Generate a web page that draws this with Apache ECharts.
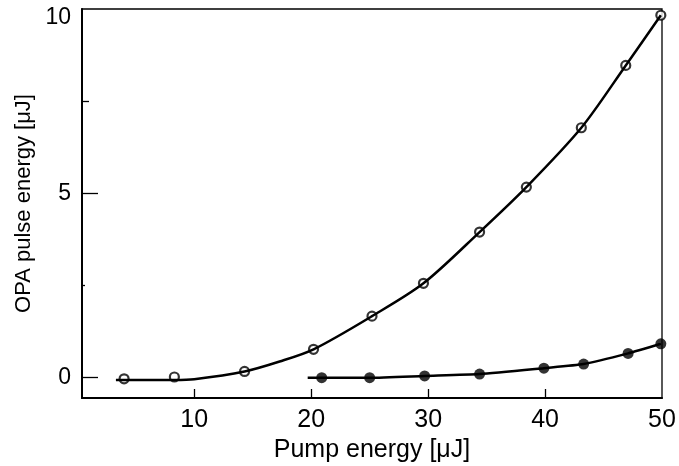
<!DOCTYPE html>
<html>
<head>
<meta charset="utf-8">
<script src="https://cdn.jsdelivr.net/npm/echarts@6/dist/echarts.min.js"></script>
<style>
    html, body { margin: 0; padding: 0; background: #fff; }
    #chart { width: 679px; height: 466px; }
</style>
</head>
<body>
<div id="chart"></div>
<script>
    // measured points (pump energy, OPA energy)
    var openX = [4.0, 8.3, 14.3, 20.2, 25.2, 29.6, 34.4, 38.4, 43.1, 46.9, 49.9];
    var openY = [-0.03, 0.02, 0.17, 0.77, 1.67, 2.56, 3.95, 5.17, 6.78, 8.47, 9.83];
    var filledX = [20.9, 25.0, 29.7, 34.4, 39.9, 43.3, 47.1, 49.9];
    var filledY = [0.0, 0.0, 0.05, 0.1, 0.26, 0.37, 0.66, 0.92];

    // fitted curves drawn through the points
    var fitOpenX = [3.3, 8.3, 10.0, 14.3, 17.3, 20.2, 25.2, 29.6, 34.4, 38.4, 43.1, 46.9, 49.9];
    var fitOpenY = [-0.06, -0.06, -0.04, 0.17, 0.44, 0.77, 1.67, 2.56, 3.95, 5.17, 6.78, 8.47, 9.83];
    var fitFilledX = [19.7, 20.9, 25.0, 29.7, 34.4, 39.9, 43.3, 47.1, 49.9];
    var fitFilledY = [0.0, 0.0, 0.0, 0.05, 0.1, 0.26, 0.37, 0.66, 0.92];

    var xTickLabels = [10, 20, 30, 40, 50];
    var xTicks = [10, 20, 30, 40];
    var yTickLabels = [0, 5, 10];
    var yMajorTicks = [0, 5];
    var yMinorTicks = [7.5];
    var ySmallTicks = [2.5];

    function pairs(xs, ys) {
        return xs.map(function (x, i) { return [x, ys[i]]; });
    }

    var font = 'Liberation Sans, Arial, Helvetica, sans-serif';
    var xMin = 0.4, xMax = 50, yMin = -0.55, yMax = 10;

    function yAxisFor(ticks, len, showLabel) {
        return {
            type: 'value',
            position: 'left',
            min: yMin,
            max: yMax,
            splitLine: { show: false },
            axisLine: { show: showLabel, onZero: false, lineStyle: { color: '#000', width: 2 } },
            axisTick: {
                show: true,
                inside: true,
                length: len,
                customValues: ticks,
                lineStyle: { color: '#000', width: 1.3 }
            },
            axisLabel: showLabel ? {
                show: true,
                customValues: yTickLabels,
                color: '#000',
                fontFamily: font,
                fontSize: 23,
                lineHeight: 18,
                margin: 11,
                formatter: function (v) {
                    // the top label sits a little below its tick
                    return v === yMax ? '\n' + v : String(v);
                }
            } : { show: false },
            name: showLabel ? 'OPA pulse energy [\u03bcJ]' : '',
            nameLocation: 'middle',
            nameGap: 42,
            nameTextStyle: { color: '#000', fontFamily: font, fontSize: 22 }
        };
    }

    var chart = echarts.init(document.getElementById('chart'));
    chart.setOption({
        animation: false,
        backgroundColor: '#fff',
        grid: {
            left: 82,
            top: 9,
            right: 17,
            bottom: 68,
            outerBoundsMode: 'none',
            containLabel: false,
            show: true,
            borderColor: '#000',
            borderWidth: 1.3,
            backgroundColor: 'transparent'
        },
        xAxis: {
            type: 'value',
            min: xMin,
            max: xMax,
            splitLine: { show: false },
            axisLine: { onZero: false, lineStyle: { color: '#000', width: 2 } },
            axisTick: {
                inside: true,
                length: 9,
                customValues: xTicks,
                lineStyle: { color: '#000', width: 1.3 }
            },
            axisLabel: {
                customValues: xTickLabels,
                color: '#000',
                fontFamily: font,
                fontSize: 25,
                margin: 10
            },
            name: 'Pump energy [\u03bcJ]',
            nameLocation: 'middle',
            nameGap: 37,
            nameTextStyle: { color: '#000', fontFamily: font, fontSize: 25 }
        },
        yAxis: [
            yAxisFor(yMajorTicks, 16, true),
            yAxisFor(yMinorTicks, 7, false),
            yAxisFor(ySmallTicks, 3, false)
        ],
        series: [
            {
                type: 'line',
                data: pairs(fitOpenX, fitOpenY),
                smooth: 0.3,
                showSymbol: false,
                lineStyle: { color: '#000', width: 2.5 }
            },
            {
                type: 'line',
                data: pairs(fitFilledX, fitFilledY),
                smooth: 0.2,
                showSymbol: false,
                lineStyle: { color: '#000', width: 2.5 }
            },
            {
                type: 'scatter',
                data: pairs(openX, openY),
                symbol: 'circle',
                symbolSize: 9,
                itemStyle: { color: '#fff', borderColor: '#000', borderWidth: 2.2 }
            },
            {
                type: 'scatter',
                data: pairs(filledX, filledY),
                symbol: 'circle',
                symbolSize: 11,
                itemStyle: { color: '#000' }
            }
        ]
    });
</script>
</body>
</html>
